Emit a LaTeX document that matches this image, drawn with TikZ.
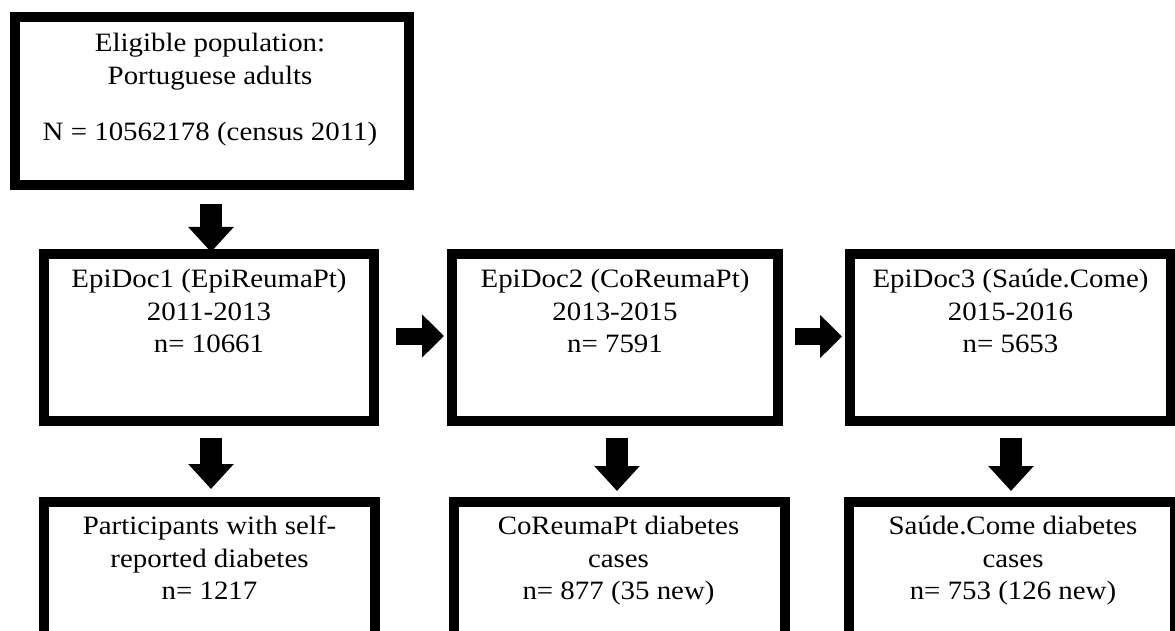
\documentclass[tikz,border=0pt]{standalone}
\usepackage{fontspec}
\setmainfont{Liberation Serif}[FakeStretch=1.09]
\usetikzlibrary{calc,arrows.meta}
\begin{document}
\begin{tikzpicture}[x=1pt,y=-1pt,
  box/.style={draw=black, line width=10pt, inner sep=0pt},
  txt/.style={font=\fontsize{26.5}{32.5}\selectfont, align=center, inner sep=0pt, anchor=north},
  darr/.style={line width=22pt, -{Triangle[length=25pt,width=44pt]}},
  rarr/.style={line width=17pt, -{Triangle[length=22pt,width=42pt]}}]
\fill[white] (0,0) rectangle (1175,631);
\useasboundingbox (0,0) rectangle (1175,631);
% boxes
\node[box, minimum width=394pt, minimum height=168pt] (b1) at (212,101) {};
\node[box, minimum width=330pt, minimum height=167pt] (b2) at (209,337.5) {};
\node[box, minimum width=326pt, minimum height=167pt] (b3) at (615,337.5) {};
\node[box, minimum width=321pt, minimum height=167pt] (b4) at (1010.5,337.5) {};
\node[box, minimum width=331pt, minimum height=160pt] (b5) at (209.5,582) {};
\node[box, minimum width=331pt, minimum height=160pt] (b6) at (619.5,582) {};
\node[box, minimum width=326pt, minimum height=160pt] (b7) at (1012,582) {};
% texts
\node[txt] (t1) at ($(b1.north)+(-2,21)$) {Eligible population:\\Portuguese adults\\[24pt]N = 10562178 (census 2011)};
\node[txt] (t2) at ($(b2.north)+(0,20)$) {EpiDoc1 (EpiReumaPt)\\2011-2013\\n= 10661};
\node[txt] (t3) at ($(b3.north)+(0,20)$) {EpiDoc2 (CoReumaPt)\\2013-2015\\n= 7591};
\node[txt] (t4) at ($(b4.north)+(0,20)$) {EpiDoc3 (Saúde.Come)\\2015-2016\\n= 5653};
\node[txt] (t5) at ($(b5.north)+(0,19)$) {Participants with self-\\reported diabetes\\n= 1217};
\node[txt] (t6) at ($(b6.north)+(-1,19)$) {CoReumaPt diabetes\\cases\\n= 877 (35 new)};
\node[txt] (t7) at ($(b7.north)+(1,19)$) {Saúde.Come diabetes\\cases\\n= 753 (126 new)};
% arrows
\draw[darr] ($(b1.south)+(-1,14)$) -- ($(b1.south)+(-1,62)$);
\draw[darr] ($(b2.south)+(2,12)$) -- ($(b2.south)+(2,63)$);
\draw[darr] ($(b3.south)+(2,12)$) -- ($(b3.south)+(2,65)$);
\draw[darr] ($(b4.south)+(0.5,12)$) -- ($(b4.south)+(0.5,65)$);
\draw[rarr] ($(b2.east)+(17,-1.5)$) -- ($(b2.east)+(65,-1.5)$);
\draw[rarr] ($(b3.east)+(12,-1)$) -- ($(b3.east)+(59,-1)$);
\end{tikzpicture}
\end{document}
